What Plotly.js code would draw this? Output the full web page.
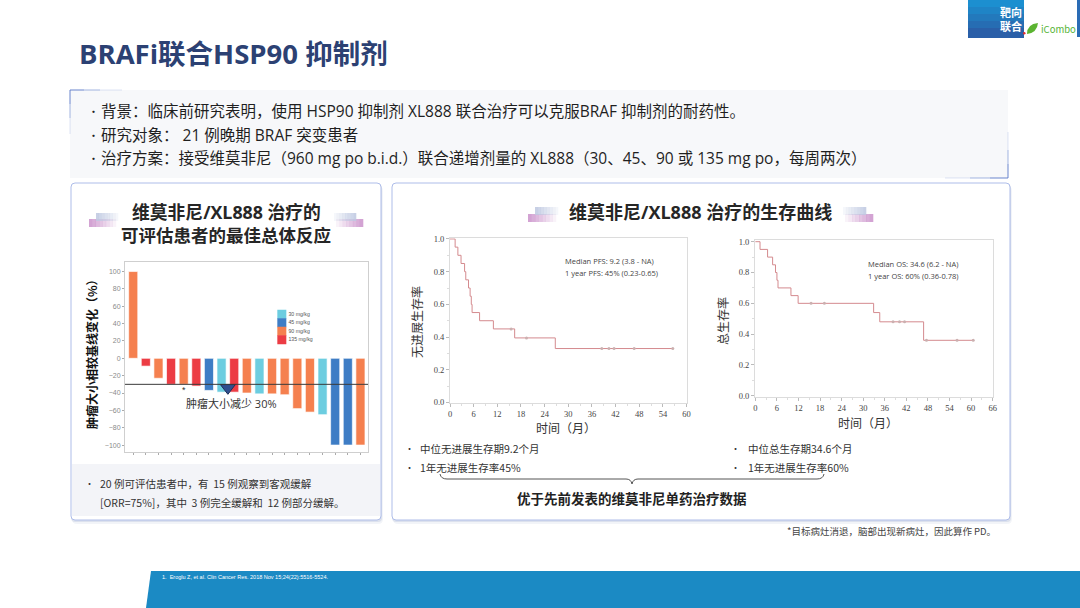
<!DOCTYPE html>
<html>
<head>
<meta charset="utf-8">
<script src="https://cdn.plot.ly/plotly-3.0.1.min.js"></script>
<style>html,body{margin:0;padding:0;background:#fff}#slide{width:1080px;height:608px}</style>
</head>
<body>
<div id="slide"></div>
<script>
// best overall response, one bar per evaluable patient
var patients = [1,2,3,4,5,6,7,8,9,10,11,12,13,14,15,16,17,18,19];
var tumourChange = [100,-9,-23,-30,-30,-32,-37,-39,-39,-40,-41,-41,-42,-58,-62,-65,-100,-100,-100];
var patientDose = ['90 mg/kg','135 mg/kg','90 mg/kg','135 mg/kg','90 mg/kg','135 mg/kg','45 mg/kg','30 mg/kg','135 mg/kg','90 mg/kg',
                   '30 mg/kg','90 mg/kg','90 mg/kg','90 mg/kg','90 mg/kg','30 mg/kg','45 mg/kg','45 mg/kg','90 mg/kg'];
var doseLabels = ['30 mg/kg','45 mg/kg','90 mg/kg','135 mg/kg'];
var doseColours = ['#6ccde0','#3e7dc5','#f5804f','#ec3c44'];
var responseCut = -30;
var starX = [5], starY = [-36];
var markX = [8.5], markY = [-34];
var changeTicks = [-100,-80,-60,-40,-20,0,20,40,60,80,100];

// Kaplan-Meier curves (months, survival probability)
var pfsTime = [0,1.3,2.0,2.8,3.7,4.0,4.7,5.1,5.4,5.6,7.5,11.0,16.4,26.7,56.5];
var pfsSurv = [1.0,0.95,0.90,0.85,0.80,0.75,0.70,0.65,0.60,0.55,0.50,0.45,0.395,0.33,0.33];
var pfsCensTime = [15.5,19.4,38.5,40.3,41.6,46.7,56.5];
var pfsCensSurv = [0.45,0.395,0.33,0.33,0.33,0.33,0.33];
var osTime = [0,1.3,3.4,4.8,5.6,6.0,6.3,9.9,11.9,32.9,34.6,46.8,60.6];
var osSurv = [1.0,0.95,0.90,0.85,0.80,0.75,0.70,0.65,0.60,0.54,0.48,0.36,0.36];
var osCensTime = [15.5,19.2,38.3,40.1,41.5,47.6,56.1,60.6];
var osCensSurv = [0.60,0.60,0.48,0.48,0.48,0.36,0.36,0.36];

var W = 1080, H = 608;
var F = 'Noto Sans CJK SC';
var FM = 'Open Sans, Noto Sans CJK SC';
function X(p){ return p / W; }
function Y(p){ return 1 - p / H; }

function note(text, x, y, size, color, anchor, extra){
	var a = {text:text, xref:'paper', yref:'paper', x:X(x), y:Y(y), showarrow:false,
		xanchor:anchor||'left', yanchor:'middle', font:{family:F, size:size, color:color}};
	for (var k in extra) a[k] = extra[k];
	return a;
}
function box(x0,y0,x1,y1,fill,lineCol,lineW){
	return {type:'rect', xref:'paper', yref:'paper', layer:'below', x0:X(x0), x1:X(x1), y0:Y(y1), y1:Y(y0),
		fillcolor:fill, line:{color:lineCol||'rgba(0,0,0,0)', width:lineW||0}};
}
function rbox(x0,y0,x1,y1,r,fill,lineCol){
	var p = 'M'+X(x0+r)+','+Y(y0)+' L'+X(x1-r)+','+Y(y0)+' Q'+X(x1)+','+Y(y0)+' '+X(x1)+','+Y(y0+r)+
		' L'+X(x1)+','+Y(y1-r)+' Q'+X(x1)+','+Y(y1)+' '+X(x1-r)+','+Y(y1)+
		' L'+X(x0+r)+','+Y(y1)+' Q'+X(x0)+','+Y(y1)+' '+X(x0)+','+Y(y1-r)+
		' L'+X(x0)+','+Y(y0+r)+' Q'+X(x0)+','+Y(y0)+' '+X(x0+r)+','+Y(y0)+' Z';
	return {type:'path', xref:'paper', yref:'paper', layer:'below', path:p, fillcolor:fill,
		line:{color:lineCol||'rgba(0,0,0,0)', width:lineCol?1:0}};
}
function seg(x0,y0,x1,y1,col,w){
	return {type:'line', xref:'paper', yref:'paper', layer:'below', x0:X(x0), x1:X(x1), y0:Y(y0), y1:Y(y1),
		line:{color:col, width:w||1}};
}
// horizontal bar faded from opacity a0 at x0 to a1 at x1
function fade(list, x0, x1, y0, y1, rgb, a0, a1){
	var n = 8, step = (x1 - x0) / n;
	for (var i=0; i<n; i++){
		var a = a0 + (a1 - a0) * (i + 0.5) / n;
		list.push(box(x0 + i*step, y0, x0 + (i+1)*step + 0.3, y1, 'rgba('+rgb+','+a.toFixed(2)+')'));
	}
}

var data = [];

// waterfall bars, one trace per dose level
for (var d=0; d<doseLabels.length; d++){
	var xs=[], ys=[];
	for (var i=0; i<patients.length; i++){
		if (patientDose[i]==doseLabels[d]){ xs.push(patients[i]); ys.push(tumourChange[i]); }
	}
	data.push({type:'bar', x:xs, y:ys, width:0.72, name:doseLabels[d], xaxis:'x', yaxis:'y',
		marker:{color:doseColours[d], line:{color:'rgba(255,255,255,0.8)', width:0.8}}, showlegend:false});
}
data.push({type:'scatter', mode:'markers', x:markX, y:markY, xaxis:'x', yaxis:'y', showlegend:false,
	marker:{symbol:'triangle-down', size:13, color:'#2f4f8f', line:{color:'#1b2d58', width:1}}});

// small dose key drawn as its own mini axes
data.push({type:'scatter', mode:'markers+text', x:doseLabels.map(function(){return 0;}), y:doseLabels,
	text:doseLabels, textposition:'middle right', textfont:{family:'Liberation Sans', size:5.2, color:'#555'},
	xaxis:'x4', yaxis:'y4', showlegend:false, cliponaxis:false,
	marker:{symbol:'square', size:9, color:doseColours}});

// PFS
data.push({type:'scatter', mode:'lines', x:pfsTime, y:pfsSurv, line:{shape:'hv', color:'#d48a8e', width:1},
	xaxis:'x2', yaxis:'y2', showlegend:false});
data.push({type:'scatter', mode:'markers', x:pfsCensTime, y:pfsCensSurv, xaxis:'x2', yaxis:'y2', showlegend:false,
	marker:{symbol:'circle', size:3, color:'#cbb0b0'}});
// OS
data.push({type:'scatter', mode:'lines', x:osTime, y:osSurv, line:{shape:'hv', color:'#d48a8e', width:1},
	xaxis:'x3', yaxis:'y3', showlegend:false});
data.push({type:'scatter', mode:'markers', x:osCensTime, y:osCensSurv, xaxis:'x3', yaxis:'y3', showlegend:false,
	marker:{symbol:'circle', size:3, color:'#cbb0b0'}});

var kmTickFont = {family:'Liberation Serif', size:8.5, color:'#444'};
function kmX(dom, rng){
	return {domain:dom, range:rng, dtick:6, tick0:0, ticks:'outside', ticklen:3, tickcolor:'#bbb',
		tickfont:kmTickFont, showline:true, mirror:true, linecolor:'#dcdcdc', linewidth:1,
		showgrid:false, zeroline:false, minor:{ticks:'outside', ticklen:2, dtick:3, tickcolor:'#ddd'}};
}
function kmY(dom, rng){
	return {domain:dom, range:rng, dtick:0.2, tick0:0, tickformat:'.1f', ticks:'outside', ticklen:3, tickcolor:'#bbb',
		tickfont:kmTickFont, showline:true, mirror:true, linecolor:'#dcdcdc', linewidth:1,
		showgrid:false, zeroline:false, minor:{ticks:'outside', ticklen:2, dtick:0.1, tickcolor:'#ddd'}};
}

var shapes = [
	// header badge, drawn as stripes going darker
	box(968,0,1024,7,'#1c8fd0'), box(968,7,1024,14,'#1f84c6'), box(968,14,1024,21,'#2379bc'),
	box(968,21,1024,28,'#266db3'), box(968,28,1024,38,'#2a5fa8'),
	box(1077,0,1080,37,'#2a6cb5'),
	{type:'path', xref:'paper', yref:'paper', layer:'below', fillcolor:'#5bb431', line:{width:0},
		path:'M'+X(1027)+','+Y(34)+' Q'+X(1027)+','+Y(24)+' '+X(1038)+','+Y(23)+' Q'+X(1037)+','+Y(33)+' '+X(1027)+','+Y(34)+' Z'},
	{type:'circle', xref:'paper', yref:'paper', layer:'below', x0:X(1023), x1:X(1025.5), y0:Y(34.5), y1:Y(32),
		fillcolor:'#e03030', line:{width:0}},

	// info box
	box(70,90,1008,178,'#f7f8fa'),
	seg(70,90,84,90,'rgba(90,120,200,0.9)'), seg(84,90,100,90,'rgba(90,120,200,0.55)'), seg(100,90,122,90,'rgba(90,120,200,0.2)'),
	seg(70,90,70,104,'rgba(90,120,200,0.9)'), seg(70,104,70,118,'rgba(90,120,200,0.55)'), seg(70,118,70,134,'rgba(90,120,200,0.2)'),
	seg(1008,178,1008,164,'rgba(90,120,200,0.9)'), seg(1008,164,1008,150,'rgba(90,120,200,0.55)'), seg(1008,150,1008,132,'rgba(90,120,200,0.2)'),
	seg(1008,178,990,178,'rgba(90,120,200,0.9)'), seg(990,178,970,178,'rgba(90,120,200,0.55)'), seg(970,178,945,178,'rgba(90,120,200,0.2)'),

	// panels with soft shadow
	rbox(72,186,383,524,5,'rgba(90,110,170,0.08)'), rbox(71,184,382,522,4,'rgba(90,110,170,0.14)'),
	rbox(71,183,381,520,4,'#ffffff','#aebde9'),
	rbox(393,186,1012,524,5,'rgba(90,110,170,0.08)'), rbox(392,184,1011,522,4,'rgba(90,110,170,0.14)'),
	rbox(392,183,1010,520,4,'#ffffff','#aebde9'),
	box(72,464,380,516,'#f3f4f8'),

	// brace
	{type:'path', xref:'paper', yref:'paper', layer:'below', fillcolor:'rgba(0,0,0,0)', line:{color:'#555', width:1},
		path:'M'+X(440)+','+Y(474)+' Q'+X(441)+','+Y(479)+' '+X(447)+','+Y(479)+' L'+X(626)+','+Y(479)+
			' Q'+X(631)+','+Y(479)+' '+X(632)+','+Y(484)+' Q'+X(633)+','+Y(479)+' '+X(638)+','+Y(479)+
			' L'+X(817)+','+Y(479)+' Q'+X(823)+','+Y(479)+' '+X(824)+','+Y(474)},

	// footer band
	{type:'path', xref:'paper', yref:'paper', layer:'below', fillcolor:'#1b8ac4', line:{width:0},
		path:'M'+X(151)+','+Y(571)+' L'+X(1080)+','+Y(571)+' L'+X(1080)+','+Y(608)+' L'+X(146)+','+Y(608)+' Z'},

	// 30% reduction line on the waterfall
	{type:'line', xref:'x domain', yref:'y', x0:0, x1:1, y0:responseCut, y1:responseCut, line:{color:'#3a3a3a', width:1}}
];

// title ornaments: pink bar under a pale blue bar, fading away from the title
fade(shapes, 89, 116, 219, 227, '200,140,200', 0.85, 0.05);
fade(shapes, 96, 118, 213, 221, '190,200,225', 0.9, 0.1);
fade(shapes, 336, 363, 219, 227, '200,140,200', 0.05, 0.85);
fade(shapes, 334, 356, 213, 221, '190,200,225', 0.1, 0.9);
fade(shapes, 528, 556, 214, 222, '200,140,200', 0.85, 0.05);
fade(shapes, 535, 558, 207, 215, '190,200,225', 0.9, 0.1);
fade(shapes, 845, 873, 214, 222, '200,140,200', 0.05, 0.85);
fade(shapes, 843, 866, 207, 215, '190,200,225', 0.1, 0.9);

var infoFont = {family:FM, size:15.5, color:'#1f1f1f'};
var annotations = [
	note('<b>BRAFi联合HSP90 抑制剂</b>', 77, 54, 27.5, '#2c4173', 'left', {font:{family:FM, size:27.5, color:'#2c4173'}}),
	note('<b>靶向</b>', 1011, 12, 11, '#ffffff', 'center'),
	note('<b>联合</b>', 1011, 26, 11, '#ffffff', 'center'),
	note('iCombo', 1039, 29, 9.5, '#56b436'),

	note('•', 86, 111, 11, '#222'), note('背景：临床前研究表明，使用 HSP90 抑制剂 XL888 联合治疗可以克服BRAF 抑制剂的耐药性。', 99, 111, 15.5, '#1f1f1f', 'left', {font:infoFont}),
	note('•', 86, 135, 11, '#222'), note('研究对象： 21 例晚期 BRAF 突变患者', 99, 135, 15.5, '#1f1f1f', 'left', {font:infoFont}),
	note('•', 86, 158, 11, '#222'), note('治疗方案：接受维莫非尼（960 mg po b.i.d.）联合递增剂量的 XL888（30、45、90 或 135 mg po，每周两次）', 99, 158, 15.5, '#1f1f1f', 'left', {font:infoFont}),

	note('<b>维莫非尼/XL888 治疗的</b>', 226, 212, 17.8, '#262626', 'center', {font:{family:FM, size:17.8, color:'#262626'}}),
	note('<b>可评估患者的最佳总体反应</b>', 226, 234, 17.5, '#262626', 'center'),
	note('<b>肿瘤大小相较基线变化（%）</b>', 91, 351, 12, '#111', 'center', {textangle:-90}),
	{text:'肿瘤大小减少 30%', xref:'x', yref:'y', x:8.8, y:-52, showarrow:false, font:{family:FM, size:11, color:'#333'}},
	{text:'*', xref:'x', yref:'y', x:starX[0], y:starY[0], showarrow:false, font:{family:'Liberation Sans', size:9, color:'#333'}},
	note('•', 83, 483, 9, '#333'), note('20 例可评估患者中，有  15 例观察到客观缓解', 98, 483, 10.5, '#333'),
	note('[ORR=75%]，其中  3 例完全缓解和  12 例部分缓解。', 98, 502, 10.5, '#333'),

	note('<b>维莫非尼/XL888 治疗的生存曲线</b>', 700, 212, 18, '#262626', 'center', {font:{family:FM, size:18, color:'#262626'}}),
	note('Median PFS: 9.2 (3.8 - NA)', 563, 261, 7.5, '#444', 'left', {font:{family:'Open Sans', size:7.5, color:'#444'}}),
	note('1 year PFS: 45% (0.23-0.65)', 563, 272.5, 7.5, '#444', 'left', {font:{family:'Open Sans', size:7.5, color:'#444'}}),
	note('Median OS: 34.6 (6.2 - NA)', 866, 264, 7.5, '#444', 'left', {font:{family:'Open Sans', size:7.5, color:'#444'}}),
	note('1 year OS: 60% (0.36-0.78)', 866, 275.5, 7.5, '#444', 'left', {font:{family:'Open Sans', size:7.5, color:'#444'}}),
	note('无进展生存率', 416, 322, 12, '#333', 'center', {textangle:-90}),
	note('时间（月）', 566, 427, 12, '#333', 'center'),
	note('总生存率', 722, 321, 12, '#333', 'center', {textangle:-90}),
	note('时间（月）', 868, 422, 12, '#333', 'center'),
	note('•', 403, 448, 9, '#333'), note('中位无进展生存期9.2个月', 418, 448, 10.5, '#333'),
	note('•', 403, 467, 9, '#333'), note('1年无进展生存率45%', 418, 467, 10.5, '#333'),
	note('•', 729, 448, 9, '#333'), note('中位总生存期34.6个月', 746, 448, 10.5, '#333'),
	note('•', 729, 467, 9, '#333'), note('1年无进展生存率60%', 746, 467, 10.5, '#333'),
	note('<b>优于先前发表的维莫非尼单药治疗数据</b>', 632, 498, 13.5, '#222', 'center'),

	note('*目标病灶消退，脑部出现新病灶，因此算作 PD。', 998, 531, 9.5, '#444', 'right'),
	note('1.  Eroglu Z, et al. Clin Cancer Res. 2018 Nov 15;24(22):5516-5524.', 160, 577, 5.5, '#ffffff', 'left',
		{font:{family:'Liberation Sans', size:5.5, color:'#ffffff'}})
];

var layout = {
	width:W, height:H, margin:{l:0, r:0, t:0, b:0},
	paper_bgcolor:'#ffffff', plot_bgcolor:'rgba(0,0,0,0)',
	font:{family:F}, showlegend:false, barmode:'overlay',
	xaxis:{domain:[X(125), X(368)], anchor:'y', range:[0.35, 19.6], tickvals:patients, showticklabels:false,
		ticks:'outside', ticklen:2, tickcolor:'#aaa', showline:true, mirror:true, linecolor:'#cfcfcf',
		showgrid:false, zeroline:false},
	yaxis:{domain:[Y(452), Y(262)], anchor:'x', range:[-108, 111], tickvals:changeTicks, ticks:'outside', ticklen:2,
		tickcolor:'#aaa', tickfont:{family:'Liberation Sans', size:7, color:'#8a8a8a'}, showline:true, mirror:true,
		linecolor:'#cfcfcf', showgrid:false, zeroline:false},
	xaxis2:kmX([X(450), X(687)], [0, 60.1]),
	yaxis2:kmY([Y(403), Y(238.3)], [-0.003, 1.004]),
	xaxis3:kmX([X(755), X(993)], [-0.1, 66.1]),
	yaxis3:kmY([Y(396.7), Y(240)], [-0.006, 1.011]),
	xaxis4:{domain:[X(277), X(330)], anchor:'y4', range:[-0.6, 6], visible:false, fixedrange:true},
	yaxis4:{domain:[Y(344), Y(310)], anchor:'x4', type:'category', range:[3.5, -0.5], visible:false, fixedrange:true},
	shapes:shapes, annotations:annotations
};
layout.xaxis2.anchor = 'y2'; layout.yaxis2.anchor = 'x2';
layout.xaxis3.anchor = 'y3'; layout.yaxis3.anchor = 'x3';

Plotly.newPlot('slide', data, layout, {displayModeBar:false, staticPlot:true});
</script>
</body>
</html>
